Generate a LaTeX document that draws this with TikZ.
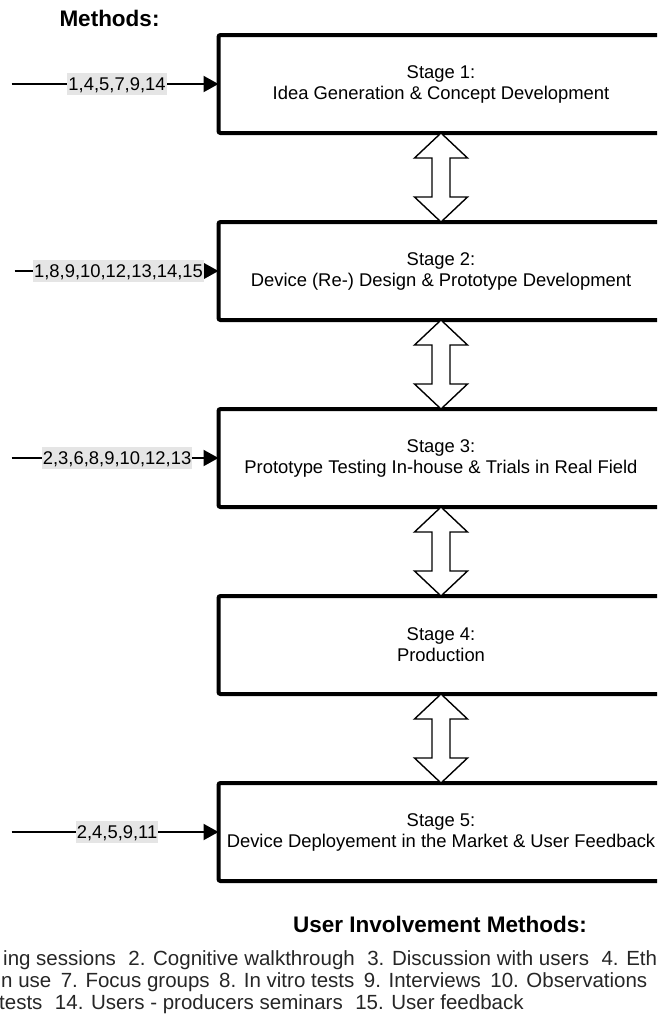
\documentclass[tikz,border=0pt]{standalone}
\usepackage{fontspec}
\setmainfont{Liberation Sans}
\usetikzlibrary{arrows.meta, positioning, calc}
\newcommand{\legsep}{\hspace{12.5pt}}

\begin{document}
\begin{tikzpicture}[x=1pt, y=1pt, node distance=89pt, >={Triangle[length=15pt, width=16pt]}]
        \tikzstyle{stagebox} = [rectangle, draw, line width=4pt, rounded corners=2pt, outer sep=0pt, minimum width=445pt, minimum height=98pt, align=center, font=\fontsize{18.4}{21}\selectfont]
        \tikzstyle{methods} = [fill=black!10, inner xsep=1pt, inner ysep=4.6pt, text height=13.2pt, text depth=0pt, font=\fontsize{18.4}{21}\selectfont]
        \tikzstyle{feed} = [->, line width=2pt]
        \tikzstyle{updown} = [draw, fill=white, line width=1.4pt]
        \tikzstyle{heading} = [anchor=base, font=\fontsize{22.5}{26}\selectfont\bfseries]
        \tikzstyle{legend} = [anchor=base west, inner sep=0pt, text=black!85, font=\fontsize{20.5}{24}\selectfont]

        \useasboundingbox (0,0) rectangle (657,-1021);
        \clip (0,0) rectangle (657,-1021);

        \node [heading] (title) at (109.5,-26) {Methods:};

        \node [stagebox] (s1) at (441,-84) {Stage 1:\\Idea Generation \& Concept Development};
        \node [stagebox, below=of s1] (s2) {Stage 2:\\Device (Re-) Design \& Prototype Development};
        \node [stagebox, below=of s2] (s3) {Stage 3:\\Prototype Testing In-house \& Trials in Real Field};
        \node [stagebox, below=of s3] (s4) {Stage 4:\\Production};
        \node [stagebox, below=of s4] (s5) {Stage 5:\\Device Deployement in the Market \& User Feedback};

        % methods feeding the stages
        \coordinate [left=207pt of s1.west] (m1);
        \coordinate [left=204pt of s2.west] (m2);
        \coordinate [left=207pt of s3.west] (m3);
        \coordinate [left=207pt of s5.west] (m5);
        \draw [feed] (m1) -- node [methods, pos=0.51] {1,4,5,7,9,14} (s1);
        \draw [feed] (m2) -- node [methods, pos=0.51] {1,8,9,10,12,13,14,15} (s2);
        \draw [feed] (m3) -- node [methods, pos=0.51] {2,3,6,8,9,10,12,13} (s3);
        \draw [feed] (m5) -- node [methods, pos=0.51] {2,4,5,9,11} (s5);

        % two-way arrows between the stages
        \foreach \a/\b in {s1/s2, s2/s3, s3/s4, s4/s5}
            \draw [updown] (\a.south) -- ++(26.5,-25) -- ++(-17.5,0) |- ($(\b.north)+(9,25)$) -- ++(17.5,0) -- (\b.north)
                -- ++(-26.5,25) -- ++(17.5,0) |- ($(\a.south)+(-9,-25)$) -- ++(-17.5,0) -- cycle;

        \node [heading] (legtitle) at (440,-932) {User Involvement Methods:};
        \node [legend] (leg1) at (3,-965) {ing sessions\legsep 2. Cognitive walkthrough\legsep 3. Discussion with users\legsep 4. Eth};
        \node [legend] (leg2) at (1,-987) {n use\hspace{9.5pt}7. Focus groups\hspace{9.5pt}8. In vitro tests\hspace{9.5pt}9. Interviews\hspace{9.5pt}10. Observations};
        \node [legend] (leg3) at (-1,-1009) {tests\legsep 14. Users - producers seminars\legsep 15. User feedback};
    \end{tikzpicture}
\end{document}
